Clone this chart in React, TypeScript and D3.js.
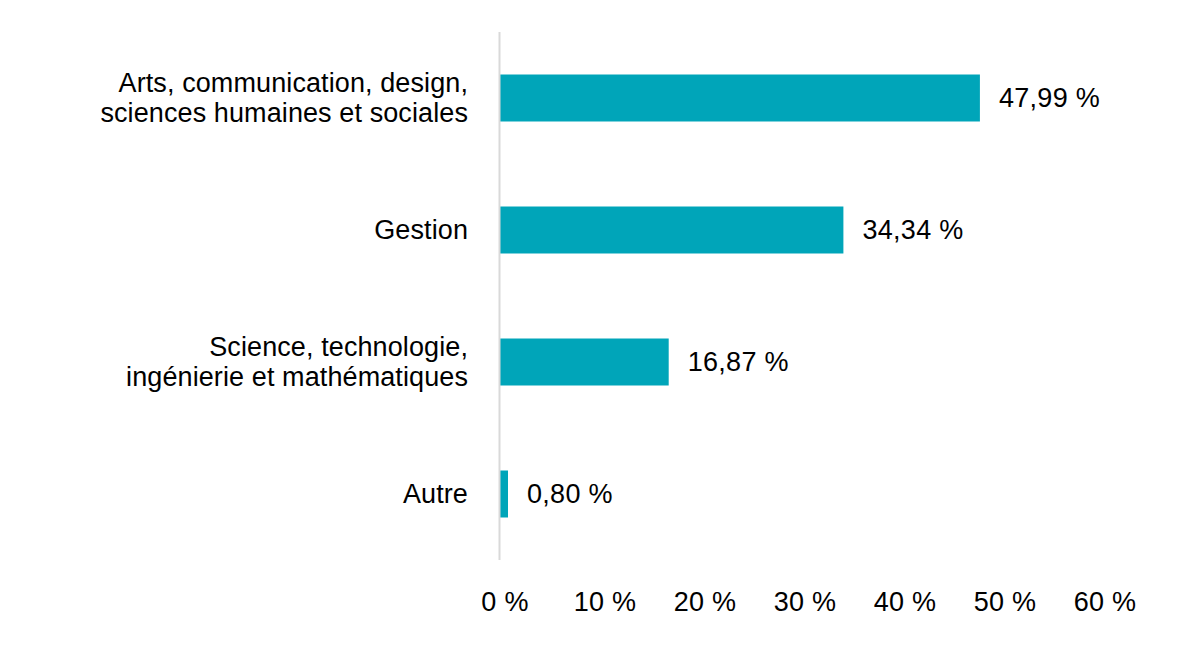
import React from "react";
import * as d3 from "d3";

const categories: string[][] = [
  ["Arts, communication, design,", "sciences humaines et sociales"],
  ["Gestion"],
  ["Science, technologie,", "ingénierie et mathématiques"],
  ["Autre"],
];
const values: number[] = [47.99, 34.34, 16.87, 0.8];
const valueLabels: string[] = ["47,99 %", "34,34 %", "16,87 %", "0,80 %"];
const tickValues: number[] = [0, 10, 20, 30, 40, 50, 60];
const tickLabels: string[] = ["0 %", "10 %", "20 %", "30 %", "40 %", "50 %", "60 %"];

const W = 1180;
const H = 650;
const FONT = "'Liberation Sans', Arial, Helvetica, sans-serif";
const BAR = "#00a5b9";
const FS = 27;
const LS = 0.3;
const LS_CAT = 0.1;

export default function App() {
  const x = d3.scaleLinear().domain([0, 60]).range([500, 1100]);
  const idx = categories.map((_, i) => String(i));
  const y = d3.scaleBand<string>().domain(idx).range([32, 560]).paddingInner(0.644).paddingOuter(0.322);
  const bw = y.bandwidth();
  const lineH = 30;

  return (
    <svg width={W} height={H} style={{ position: "absolute", left: 0, top: 0, background: "#fff" }} fontFamily={FONT}>
      {values.map((v, i) => {
        const y0 = y(String(i))!;
        return (
          <g key={i}>
            <rect x={x(0)} y={y0} width={x(v) - x(0)} height={bw} fill={BAR} />
            <text x={x(v) + 19} y={y0 + bw / 2} dy="0.35em" fontSize={FS} letterSpacing={LS} fill="#000">
              {valueLabels[i]}
            </text>
          </g>
        );
      })}
      {categories.map((lines, i) => {
        const cy = y(String(i))! + bw / 2;
        const start = cy - ((lines.length - 1) * lineH) / 2;
        return (
          <text key={i} x={x(0) - 32} textAnchor="end" fontSize={FS} letterSpacing={LS_CAT} fill="#000">
            {lines.map((l, j) => (
              <tspan key={j} x={x(0) - 32} y={start + j * lineH} dy="0.35em">
                {l}
              </tspan>
            ))}
          </text>
        );
      })}
      <line x1={x(0) - 0.5} x2={x(0) - 0.5} y1={32} y2={560} stroke="#d9d9d9" strokeWidth={2} />
      {tickValues.map((t, i) => (
        <text key={t} x={x(t) + 5} y={611} textAnchor="middle" fontSize={FS} letterSpacing={LS} fill="#000">
          {tickLabels[i]}
        </text>
      ))}
    </svg>
  );
}
